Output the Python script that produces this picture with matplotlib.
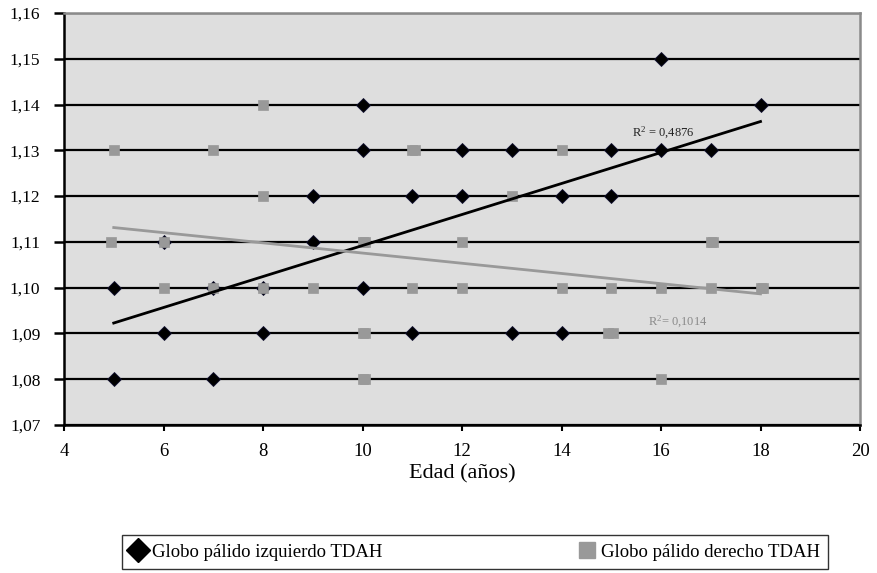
import numpy as np
import matplotlib
matplotlib.use("Agg")
import matplotlib.pyplot as plt
from matplotlib.lines import Line2D

plt.rcParams['font.family'] = ['Liberation Serif', 'DejaVu Serif']

# ---------------- data ----------------
left_age = [5, 5, 6, 6, 7, 7, 8, 8, 9, 9, 10, 10, 10, 11, 11, 12, 12, 13, 13,
            14, 14, 15, 15, 16, 16, 17, 18]
left_vol = [1.10, 1.08, 1.09, 1.11, 1.08, 1.10, 1.09, 1.10, 1.12, 1.11, 1.14, 1.13, 1.10,
            1.12, 1.09, 1.13, 1.12, 1.13, 1.09, 1.12, 1.09, 1.13, 1.12, 1.15, 1.13,
            1.13, 1.14]

right_age = [4.94, 5, 6, 6, 7, 7, 8, 8, 8, 9, 10, 10.05, 10, 10.05, 10, 10.05,
             11, 11.05, 11, 12, 12, 13, 14, 14, 15, 14.93, 15.03, 16, 16,
             17, 17.05, 17, 18, 18.05]
right_vol = [1.11, 1.13, 1.11, 1.10, 1.13, 1.10, 1.14, 1.12, 1.10, 1.10, 1.11, 1.11,
             1.09, 1.09, 1.08, 1.08, 1.13, 1.13, 1.10, 1.11, 1.10, 1.12, 1.13, 1.10,
             1.10, 1.09, 1.09, 1.10, 1.08, 1.11, 1.11, 1.10, 1.10, 1.10]

left_label = "Globo pálido izquierdo TDAH"
right_label = "Globo pálido derecho TDAH"
r2_left_text = "R$^{2}$ = 0,4876"
r2_right_text = "R$^{2}$= 0,1014"
x_ticks = [4, 6, 8, 10, 12, 14, 16, 18, 20]
y_ticks = [1.07, 1.08, 1.09, 1.10, 1.11, 1.12, 1.13, 1.14, 1.15, 1.16]
y_tick_labels = ["1,07", "1,08", "1,09", "1,10", "1,11", "1,12", "1,13", "1,14", "1,15", "1,16"]
x_label = "Edad (años)"

# ---------------- figure ----------------
plt.rcParams['mathtext.fontset'] = 'custom'
plt.rcParams['mathtext.rm'] = 'Liberation Serif'
plt.rcParams['mathtext.it'] = 'Liberation Serif'

W, H = 877, 573
fig = plt.figure(figsize=(W / 100, H / 100), dpi=100)
ax = fig.add_axes([64 / W, 1 - 425 / H, (860 - 64) / W, (425 - 13) / H])
ax.set_facecolor('#DEDEDE')

ax.set_xlim(4, 20)
ax.set_ylim(1.07, 1.16)
ax.set_xticks(x_ticks)
ax.set_xticklabels([str(t) for t in x_ticks], fontsize=13.5)
ax.set_yticks(y_ticks)
ax.set_yticklabels(y_tick_labels, fontsize=12.5)

ax.set_axisbelow(True)
ax.yaxis.grid(True, color='black', lw=1.6)
ax.xaxis.grid(False)

for s in ['left', 'bottom']:
    ax.spines[s].set_color('black')
    ax.spines[s].set_linewidth(1.8)
for s in ['top', 'right']:
    ax.spines[s].set_color('#8a8a8a')
    ax.spines[s].set_linewidth(1.8)

ax.tick_params(axis='y', direction='out', length=7, width=1.8, pad=10, colors='black')
ax.tick_params(axis='x', direction='out', length=4, width=1.5, pad=9, colors='black')

dia_color = 'black'
sq_color = '#999999'

ax.plot(left_age, left_vol, linestyle='none', marker='D', ms=7,
        color=dia_color, mec='#101030', mew=0.6, zorder=3)
ax.plot(right_age, right_vol, linestyle='none', marker='s', ms=7.8,
        color=sq_color, mec=sq_color, mew=0.5, zorder=4)

# linear trend lines (least squares) over the data range
la = np.array(left_age, dtype=float)
lv = np.array(left_vol, dtype=float)
ra = np.array(right_age, dtype=float)
rv = np.array(right_vol, dtype=float)
pl = np.polyfit(la, lv, 1)
pr = np.polyfit(ra, rv, 1)
xl = np.array([la.min(), la.max()])
xr = np.array([5.0, 18.0])
ax.plot(xl, np.polyval(pl, xl), color='black', lw=2, zorder=5)
ax.plot(xr, np.polyval(pr, xr), color='#999999', lw=2, zorder=5)

ax.text(15.42, 1.1338, r2_left_text, fontsize=9, color='#222222',
        ha='left', va='center', zorder=6)
ax.text(15.74, 1.0926, r2_right_text, fontsize=9, color='#8a8a8a',
        ha='left', va='center', zorder=6)

fig.text(462 / W, 1 - 474 / H, x_label, fontsize=16, ha='center', va='center')

handles = [
    Line2D([], [], linestyle='none', marker='D', ms=12, color='black', label=left_label),
    Line2D([], [], linestyle='none', marker='s', ms=11, color=sq_color, label=right_label),
]
leg = fig.legend(handles=handles, loc='center', bbox_to_anchor=(475 / W, 1 - 552 / H),
                 ncol=2, fontsize=13.5, frameon=True, fancybox=False, edgecolor='black',
                 borderpad=0.45, handlelength=0.8, handletextpad=0.35, columnspacing=10.5)
leg.get_frame().set_linewidth(1.0)

fig.savefig('out.png', dpi=100, facecolor='white')
